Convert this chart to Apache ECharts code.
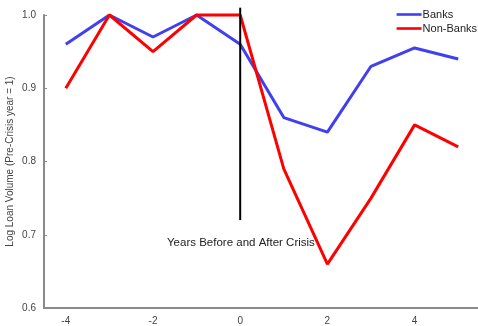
<!DOCTYPE html>
<html><head><meta charset="utf-8">
<script src="https://cdn.jsdelivr.net/npm/echarts@6/dist/echarts.min.js"></script>
<style>html,body{margin:0;padding:0;background:#fff}#c{width:478px;height:326px}</style>
</head><body><div id="c"></div>
<script>
var years = [-4, -3, -2, -1, 0, 1, 2, 3, 4, 5];
var banks = [0.96, 1.0, 0.97, 1.0, 0.96, 0.86, 0.84, 0.93, 0.955, 0.94];
var nonBanks = [0.90, 1.0, 0.95, 1.0, 1.0, 0.79, 0.66, 0.75, 0.85, 0.82];
var crisisLineX = [0, 0];
var crisisLineY = [0.72, 1.01];
var yTicks = [0.6, 0.7, 0.8, 0.9, 1.0];
var xTicks = [-4, -2, 0, 2, 4];

function pairs(xs, ys) { return xs.map(function (x, i) { return [x, ys[i]]; }); }

var chart = echarts.init(document.getElementById('c'));
chart.setOption({
  animation: false,
  backgroundColor: '#fff',
  grid: { left: 44, top: 15, right: -2, bottom: 18, containLabel: false, outerBoundsMode: 'none' },
  legend: {
    right: -4, top: 4, orient: 'vertical', itemGap: 3,
    itemWidth: 25, itemHeight: 11,
    icon: 'path://M0,4 L24,4 L24,6.5 L0,6.5 Z',
    textStyle: { fontFamily: 'Liberation Sans', fontSize: 11, color: '#222', padding: [0, 0, 0, -4] },
    data: ['Banks', 'Non-Banks']
  },
  xAxis: {
    type: 'value', min: -4.5, max: 5.5, interval: 0.5,
    axisLine: { onZero: false, lineStyle: { color: '#8a8a8a', width: 2 } },
    axisTick: { show: false },
    splitLine: { show: false },
    axisLabel: {
      fontFamily: 'Liberation Sans', fontSize: 10, color: '#444', margin: 8,
      formatter: function (v) { return xTicks.indexOf(v) >= 0 ? String(v) : ''; }
    }
  },
  yAxis: {
    type: 'value', min: 0.6, max: 1.0, interval: 0.1,
    name: 'Log Loan Volume (Pre-Crisis year = 1)',
    nameLocation: 'middle', nameGap: 29, nameMoveOverlap: false,
    nameTextStyle: { fontFamily: 'Liberation Sans', fontSize: 10, color: '#444' },
    axisLine: { show: true, onZero: false, lineStyle: { color: '#8a8a8a', width: 2 } },
    axisTick: { show: true, inside: true, length: 3, lineStyle: { color: '#8a8a8a' } },
    splitLine: { show: false },
    axisLabel: {
      fontFamily: 'Liberation Sans', fontSize: 10, color: '#444', margin: 8,
      formatter: function (v) { return v.toFixed(1); }
    }
  },
  graphic: [{
    type: 'text', left: 167, top: 237,
    style: { text: 'Years Before and After Crisis', font: '11.5px "Liberation Sans"', fill: '#222' }
  }],
  series: [
    { name: 'Banks', type: 'line', data: pairs(years, banks), symbol: 'none', clip: false,
      lineStyle: { color: '#4040ee', width: 3 }, itemStyle: { color: '#4040ee' }, z: 3 },
    { name: 'Non-Banks', type: 'line', data: pairs(years, nonBanks), symbol: 'none', clip: false,
      lineStyle: { color: '#ff0000', width: 3 }, itemStyle: { color: '#ff0000' }, z: 4 },
    { name: 'crisis', type: 'line', data: pairs(crisisLineX, crisisLineY), symbol: 'none', clip: false,
      lineStyle: { color: '#000', width: 2 }, z: 5, silent: true }
  ]
});
</script></body></html>
